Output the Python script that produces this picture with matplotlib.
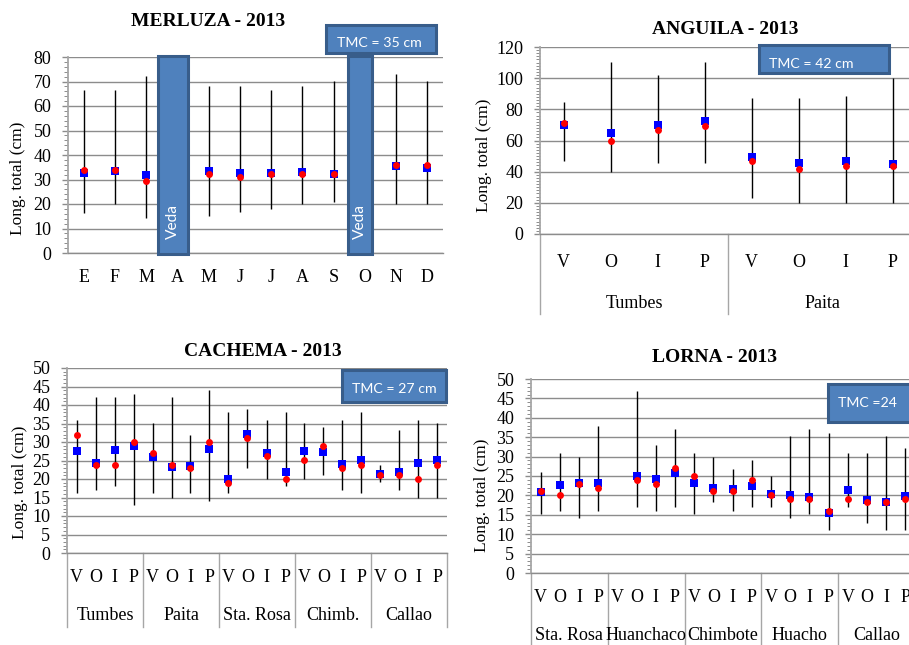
import numpy as np
import matplotlib
matplotlib.use("Agg")
import matplotlib.pyplot as plt
from matplotlib.ticker import MultipleLocator
from matplotlib.patches import Rectangle
from matplotlib.transforms import blended_transform_factory

# ---------------- data ----------------
mer_meses = ["E", "F", "M", "A", "M", "J", "J", "A", "S", "O", "N", "D"]
mer_media = [32.5, 33.6, 31.7, np.nan, 33.6, 32.8, 32.8, 33.2, 32.3, np.nan, 35.7, 34.6]
mer_mediana = [33.9, 33.9, 29.2, np.nan, 32.1, 31.2, 32.1, 32.1, 32.1, np.nan, 35.9, 35.9]
mer_min = [16.3, 20.0, 14.1, np.nan, 15.2, 16.9, 17.9, 20.0, 21.0, np.nan, 20.0, 20.0]
mer_max = [66.7, 66.7, 72.1, np.nan, 68.2, 68.2, 66.7, 68.2, 70.2, np.nan, 73.2, 70.2]
mer_veda = [3, 9]
mer_tmc = "TMC = 35 cm"

estaciones = ["V", "O", "I", "P"]

ang_lugares = ["Tumbes", "Paita"]
ang_media = [69.7, 64.8, 69.9, 72.3, 49.4, 45.6, 47.1, 44.9]
ang_mediana = [71.2, 59.7, 66.7, 69.5, 46.6, 41.9, 43.9, 43.9]
ang_min = [46.6, 39.8, 45.3, 45.3, 22.9, 19.9, 19.9, 19.9]
ang_max = [84.7, 110.2, 102.2, 110.2, 87.1, 87.1, 88.8, 100.1]
ang_tmc = "TMC = 42 cm"

cac_lugares = ["Tumbes", "Paita", "Sta. Rosa", "Chimb.", "Callao"]
cac_media = [27.5, 24.3, 27.9, 28.8, 25.9, 23.2, 23.4, 28.2, 20.0, 32.2,
             27.0, 21.8, 27.5, 27.2, 24.1, 25.2, 21.4, 21.8, 24.3, 25.2]
cac_mediana = [31.9, 23.9, 23.9, 30.0, 27.0, 23.9, 23.0, 30.0, 18.9, 31.0,
               26.1, 20.0, 25.2, 29.0, 23.0, 23.9, 21.0, 21.0, 20.0, 23.9]
cac_min = [16.2, 17.1, 18.2, 12.9, 16.2, 14.9, 16.2, 14.0, 16.2, 23.0,
           20.0, 18.0, 20.0, 21.0, 17.1, 16.2, 19.1, 17.1, 14.9, 14.9]
cac_max = [36.0, 42.2, 42.2, 43.1, 35.1, 42.2, 31.9, 44.1, 38.0, 38.9,
           36.0, 38.0, 35.1, 34.1, 36.0, 38.0, 23.9, 33.2, 36.0, 35.1]
cac_tmc = "TMC = 27 cm"

lor_lugares = ["Sta. Rosa", "Huanchaco", "Chimbote", "Huacho", "Callao"]
lor_media = [20.8, 22.6, 23.2, 23.2, np.nan, 25.0, 24.2, 25.7, 23.2, 21.9,
             21.6, 22.5, 20.4, 20.2, 19.6, 15.4, 21.3, 18.9, 18.3, 19.9]
lor_mediana = [21.2, 20.0, 23.0, 22.0, np.nan, 24.0, 23.0, 27.0, 25.1, 21.2,
               21.2, 24.0, 20.0, 19.0, 19.0, 15.9, 19.0, 18.2, 18.4, 19.0]
lor_min = [15.2, 16.0, 14.2, 16.0, np.nan, 17.0, 16.0, 17.0, 15.2, 18.2,
           16.0, 17.0, 17.0, 14.2, 15.2, 11.1, 17.0, 13.0, 11.1, 11.1]
lor_max = [26.0, 30.9, 29.8, 37.9, np.nan, 47.0, 33.0, 37.0, 30.9, 29.8,
           26.8, 29.0, 25.0, 35.2, 37.0, 36.0, 30.9, 30.9, 35.2, 32.2]
lor_tmc = "TMC =24"

# ---------------- style ----------------
SERIF = "Liberation Serif"
SANS = "Lato"
SANS_FS = 10.2
GRID = "#8c8c8c"
AXIS = "#a6a6a6"
BOX_FACE = "#4f81bd"
BOX_EDGE = "#385d8a"
BLUE = "#0000ff"
RED = "#ff0000"

W, H = 909, 645
fig = plt.figure(figsize=(W / 100, H / 100), dpi=100)
fig.patch.set_facecolor("white")


def fx(px):
    return px / W


def fy(py):
    return 1 - py / H


def axes_px(left, top, right, bottom):
    return fig.add_axes([fx(left), fy(bottom), (right - left) / W, (bottom - top) / H])


def base_axes(ax, ncat, ymax, ystep, minor):
    ax.set_xlim(-0.5, ncat - 0.5)
    ax.set_ylim(0, ymax)
    ax.set_yticks(np.arange(0, ymax + 0.1, ystep))
    ax.yaxis.set_minor_locator(MultipleLocator(minor))
    ax.grid(axis="y", which="major", color=GRID, lw=1.0)
    ax.set_axisbelow(True)
    for s in ("top", "right"):
        ax.spines[s].set_visible(False)
    ax.spines["left"].set_color(AXIS)
    ax.spines["left"].set_linewidth(1.3)
    ax.spines["bottom"].set_color(GRID)
    ax.spines["bottom"].set_linewidth(1.0)
    ax.tick_params(axis="y", which="major", length=4, width=1.0, color=GRID,
                   pad=8, labelsize=13)
    ax.tick_params(axis="y", which="minor", length=3, width=0.7, color=GRID)
    ax.tick_params(axis="x", length=0, labelbottom=False)
    for lab in ax.get_yticklabels():
        lab.set_fontfamily(SERIF)
    ax.set_facecolor("none")


def draw_series(ax, media, mediana, vmin, vmax):
    x = np.arange(len(media))
    media = np.asarray(media, float)
    mediana = np.asarray(mediana, float)
    vmin = np.asarray(vmin, float)
    vmax = np.asarray(vmax, float)
    ok = np.isfinite(vmin) & np.isfinite(vmax)
    ax.vlines(x[ok], vmin[ok], vmax[ok], color="black", lw=1.0, zorder=3)
    ax.plot(x, media, "s", color=BLUE, ms=6, mew=0, zorder=4, clip_on=False)
    ax.plot(x, mediana, "o", color=RED, ms=5, mew=0, zorder=5, clip_on=False)


def title(text, cx, cy):
    fig.text(fx(cx), fy(cy), text, family=SERIF, weight="bold", fontsize=14,
             ha="center", va="center")


def ylabel(cx, cy):
    fig.text(fx(cx), fy(cy), "Long. total (cm)", family=SERIF, fontsize=12.5,
             rotation=90, ha="center", va="center")


def tmc_box(left, top, right, bottom, text, tx, ty):
    fig.patches.append(Rectangle((fx(left), fy(bottom)), (right - left) / W,
                                 (bottom - top) / H, transform=fig.transFigure,
                                 facecolor=BOX_FACE, edgecolor=BOX_EDGE, lw=2.2,
                                 zorder=6))
    fig.text(fx(tx), fy(ty), text, family=SANS, fontsize=SANS_FS, color="white",
             ha="left", va="center", zorder=7)


def grouped_labels(ax, groups, axis_bottom, sub_y, grp_y, sep_bottom, sub_fs=13):
    tr = blended_transform_factory(ax.transData, fig.transFigure)
    n = len(estaciones)
    for g, name in enumerate(groups):
        for k, s in enumerate(estaciones):
            ax.text(g * n + k, fy(sub_y), s, transform=tr, family=SERIF,
                    fontsize=sub_fs, ha="center", va="center", clip_on=False)
        ax.text(g * n + (n - 1) / 2, fy(grp_y), name, transform=tr, family=SERIF,
                fontsize=13, ha="center", va="center", clip_on=False)
    for g in range(len(groups) + 1):
        xs = g * n - 0.5
        ax.plot([xs, xs], [fy(axis_bottom), fy(sep_bottom)], transform=tr,
                color=AXIS, lw=1.0, clip_on=False)


# ---------------- MERLUZA ----------------
ax1 = axes_px(68, 57, 443, 253)
base_axes(ax1, len(mer_meses), 80, 10, 2)
draw_series(ax1, mer_media, mer_mediana, mer_min, mer_max)
tr1 = blended_transform_factory(ax1.transData, fig.transFigure)
for i, m in enumerate(mer_meses):
    ax1.text(i, fy(278), m, transform=tr1, family=SERIF, fontsize=13,
             ha="center", va="center", clip_on=False)
veda_geom = {3: (-0.62, 0.96), 9: (-0.54, 0.77)}
for i in mer_veda:
    off, w = veda_geom[i]
    ax1.add_patch(Rectangle((i + off, -0.3), w, 80.8, facecolor=BOX_FACE,
                            edgecolor=BOX_EDGE, lw=2.2, zorder=6, clip_on=False))
    ax1.text(i + off + w / 2, 13, "Veda", family=SANS, fontsize=SANS_FS + 1,
             color="white", rotation=90, ha="center", va="center", zorder=7)
title("MERLUZA - 2013", 208, 22)
ylabel(18, 178)
tmc_box(326, 25, 436, 53, mer_tmc, 337, 43)

# ---------------- ANGUILA ----------------
ax2 = axes_px(540, 47, 916, 234)
base_axes(ax2, len(ang_media), 120, 20, 2)
draw_series(ax2, ang_media, ang_mediana, ang_min, ang_max)
grouped_labels(ax2, ang_lugares, 234, 263, 303, 314)
title("ANGUILA - 2013", 725, 30)
ylabel(484, 155)
tmc_box(759, 45, 889, 73, ang_tmc, 769, 64)

# ---------------- CACHEMA ----------------
ax3 = axes_px(67, 368, 447, 553)
base_axes(ax3, len(cac_media), 50, 5, 1)
draw_series(ax3, cac_media, cac_mediana, cac_min, cac_max)
grouped_labels(ax3, cac_lugares, 553, 578, 615, 627)
title("CACHEMA - 2013", 263, 352)
ylabel(20, 482)
tmc_box(342, 370, 446, 402, cac_tmc, 352, 389)

# ---------------- LORNA ----------------
ax4 = axes_px(531, 379, 915, 573)
base_axes(ax4, len(lor_media), 50, 5, 1)
draw_series(ax4, lor_media, lor_mediana, lor_min, lor_max)
grouped_labels(ax4, lor_lugares, 573, 598, 635, 650)
title("LORNA - 2013", 714, 357)
ylabel(482, 495)
tmc_box(828, 384, 925, 422, lor_tmc, 838, 403)

fig.savefig("out.png", dpi=100)
